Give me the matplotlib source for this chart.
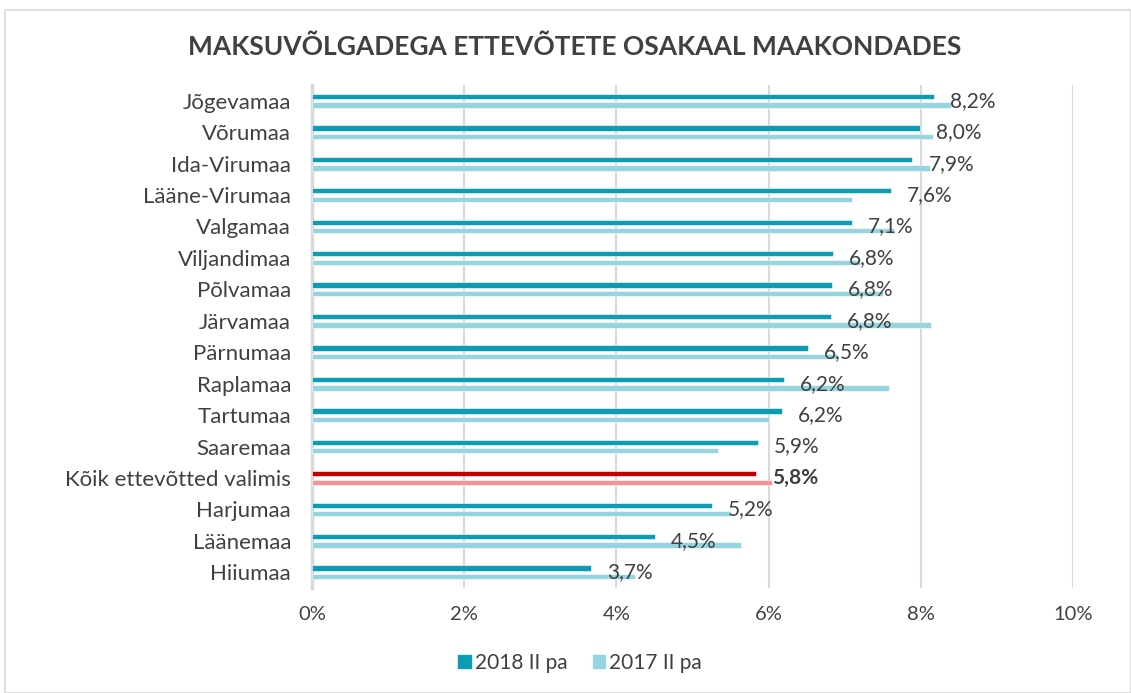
import matplotlib
matplotlib.use("Agg")
import matplotlib.pyplot as plt
import numpy as np
from matplotlib.patches import Rectangle, Patch

categories = ["Jõgevamaa", "Võrumaa", "Ida-Virumaa", "Lääne-Virumaa", "Valgamaa",
              "Viljandimaa", "Põlvamaa", "Järvamaa", "Pärnumaa", "Raplamaa",
              "Tartumaa", "Saaremaa", "Kõik ettevõtted valimis", "Harjumaa",
              "Läänemaa", "Hiiumaa"]
values_2018 = [8.17, 7.99, 7.89, 7.61, 7.09, 6.85, 6.83, 6.82, 6.52, 6.20,
               6.17, 5.86, 5.83, 5.25, 4.51, 3.67]
values_2017 = [8.40, 8.16, 8.12, 7.09, 7.65, 7.20, 7.50, 8.14, 6.90, 7.58,
               6.01, 5.34, 6.05, 5.50, 5.64, 4.25]
labels_2018 = ["8,2%", "8,0%", "7,9%", "7,6%", "7,1%", "6,8%", "6,8%", "6,8%",
               "6,5%", "6,2%", "6,2%", "5,9%", "5,8%", "5,2%", "4,5%", "3,7%"]
xticks = [0, 2, 4, 6, 8, 10]
xtick_labels = ["0%", "2%", "4%", "6%", "8%", "10%"]
series_names = ["2018 II pa", "2017 II pa"]
highlight = "Kõik ettevõtted valimis"

FONT = "Lato"
TXT = "#404040"
C18, C17 = "#0E9CB2", "#96D5E0"
R18, R17 = "#C00000", "#F79292"

fig = plt.figure(figsize=(11.31, 6.93), dpi=100)
fig.patches.append(Rectangle((0.004, 0.0), 0.996, 0.985, transform=fig.transFigure,
                             fill=False, edgecolor="#D9D9D9", linewidth=1.2))
ax = fig.add_axes([0.2759, 0.1515, 0.6728, 0.7258])

n = len(categories)
y = np.arange(n)[::-1]
off, h = 0.135, 0.17
c18 = [R18 if c == highlight else C18 for c in categories]
c17 = [R17 if c == highlight else C17 for c in categories]
ax.barh(y + off, values_2018, height=h, color=c18, edgecolor="white", linewidth=0.4, zorder=3)
ax.barh(y - off, values_2017, height=h, color=c17, edgecolor="white", linewidth=0.4, zorder=3)

for yi, v, lab, c in zip(y, values_2018, labels_2018, categories):
    ax.annotate(lab, (v, yi), xytext=(16, 0), textcoords="offset pixels",
                ha="left", va="center", fontsize=15, color=TXT, family=FONT,
                fontweight="bold" if c == highlight else "normal", zorder=4)

ax.set_xlim(0, 10)
ax.set_ylim(-0.5, n - 0.5)
ax.set_xticks(xticks)
ax.set_xticklabels(xtick_labels, fontsize=14.5, color=TXT, family=FONT)
ax.set_yticks(y)
ax.set_yticklabels(categories, fontsize=16, color=TXT, family=FONT)
ax.tick_params(length=0, pad=15, axis="y")
ax.tick_params(length=0, pad=13, axis="x")
ax.grid(axis="x", color="#D9D9D9", linewidth=1.5, zorder=0)
ax.set_axisbelow(True)
for s in ["top", "right", "bottom"]:
    ax.spines[s].set_visible(False)
ax.spines["left"].set_color("#D9D9D9")
ax.spines["left"].set_linewidth(2.5)

fig.text(0.508, 0.932, "MAKSUVÕLGADEGA ETTEVÕTETE OSAKAAL MAAKONDADES", ha="center", va="center",
         fontsize=19, fontweight="bold", color=TXT, family=FONT)

handles = [Patch(color=C18), Patch(color=C17)]
fig.legend(handles, series_names, loc="center", bbox_to_anchor=(0.513, 0.043), ncol=2,
           frameon=False, prop={"family": FONT, "size": 15}, handlelength=0.6,
           handleheight=0.6, handletextpad=0.2, columnspacing=1.2, labelcolor=TXT)

fig.savefig("out.png", dpi=100)
